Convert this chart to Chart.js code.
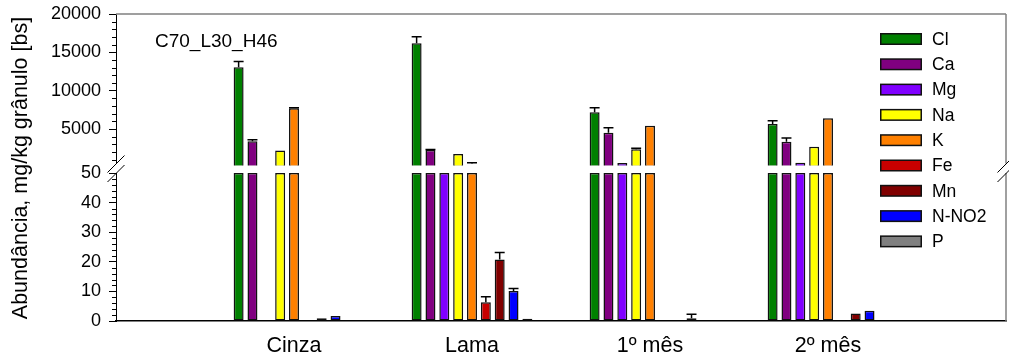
<!DOCTYPE html>
<html>
<head>
<meta charset="utf-8">
<script src="https://cdn.jsdelivr.net/npm/chart.js@4/dist/chart.umd.min.js"></script>
<style>
  html, body { margin: 0; padding: 0; background: #fff; }
  #wrap { position: relative; width: 1009px; height: 360px; }
  #wrap canvas { position: absolute; left: 0; top: 0; }
</style>
</head>
<body>
<div id="wrap">
  <canvas id="upper" width="1009" height="360"></canvas>
  <canvas id="lower" width="1009" height="360"></canvas>
</div>
<script>
// ---- data -------------------------------------------------------------
const categories = ['Cinza', 'Lama', '1º mês', '2º mês'];
const elements = ['Cl', 'Ca', 'Mg', 'Na', 'K', 'Fe', 'Mn', 'N-NO2', 'P'];
const colors = ['#008000', '#800080', '#8000FF', '#FFFF00', '#FF8000', '#C80000', '#800000', '#0000FF', '#808080'];

// mean abundance per element, one value per category (mg/kg granule, dry basis)
const Cl   = [13050, 16180, 7180, 5660];
const Ca   = [3400, 2270, 4520, 3350];
const Mg   = [null, 350, 580, 590];
const Na   = [2180, 1740, 2350, 2700];
const K    = [7700, 480, 5440, 6400];
const Fe   = [null, 6.3, null, null];
const Mn   = [0.9, 20.8, null, 2.5];
const NNO2 = [1.7, 10.1, 0.9, 3.5];
const P    = [null, 0.8, null, null];

// standard deviations (upper whisker only)
const ClErr   = [750, 850, 600, 430];
const CaErr   = [200, 60, 650, 480];
const MgErr   = [null, null, null, null];
const NaErr   = [null, null, 150, null];
const KErr    = [80, 120, null, null];
const FeErr   = [null, 1.9, null, null];
const MnErr   = [null, 2.3, null, null];
const NNO2Err = [null, 0.9, 1.4, null];
const PErr    = [null, null, null, null];

// broken y axis: upper and lower segments
const upperRange = [500, 20000];
const lowerRange = [0, 50];
const upperTicks = [5000, 10000, 15000, 20000];
const lowerTicks = [0, 10, 20, 30, 40, 50];
const upperMinorStep = 1000;
const lowerMinorStep = 2;

const sampleLabel = 'C70_L30_H46';
const yTitle = 'Abundância, mg/kg grânulo [bs]';

// ---- helpers ----------------------------------------------------------
const series = [Cl, Ca, Mg, Na, K, Fe, Mn, NNO2, P];
const errors = [ClErr, CaErr, MgErr, NaErr, KErr, FeErr, MnErr, NNO2Err, PErr];
// an empty slot on each side of the categories
const labels = ['', ...categories, ''];
const pad = arr => [null, ...arr, null];

const FONT = "'Liberation Sans', Arial, Helvetica, sans-serif";
Chart.defaults.font.family = FONT;
Chart.defaults.color = '#000';

function buildDatasets(mapValue) {
  return elements.map((name, i) => ({
    label: name,
    data: pad(series[i].map(mapValue)),
    backgroundColor: colors[i],
    borderColor: '#111',
    borderWidth: 1.5,
    borderSkipped: false,
    categoryPercentage: 0.70,
    barPercentage: 0.72,
    clip: 2
  }));
}

// whiskers, drawn from the same means and deviations, clipped to the plot
const errorBars = {
  id: 'errorBars',
  afterDatasetsDraw(chart) {
    const { ctx, chartArea: a } = chart;
    const y = chart.scales.y;
    ctx.save();
    ctx.beginPath();
    ctx.rect(a.left, a.top - 1, a.right - a.left, a.bottom - a.top + 2);
    ctx.clip();
    ctx.strokeStyle = '#000';
    ctx.lineWidth = 1.5;
    chart.data.datasets.forEach((ds, di) => {
      const meta = chart.getDatasetMeta(di);
      meta.data.forEach((bar, idx) => {
        const k = idx - 1;
        if (k < 0 || k >= categories.length) return;
        const v = series[di][k], e = errors[di][k];
        if (v == null || e == null) return;
        const x = bar.x;
        const y0 = y.getPixelForValue(v);
        const y1 = y.getPixelForValue(v + e);
        const half = bar.width / 2;
        ctx.beginPath();
        ctx.moveTo(x, y0);
        ctx.lineTo(x, y1);
        ctx.moveTo(x - half, y1);
        ctx.lineTo(x + half, y1);
        ctx.stroke();
      });
    });
    ctx.restore();
  }
};

// short minor ticks on the value axis
const minorTicks = {
  id: 'minorTicks',
  afterDraw(chart, args, opts) {
    const { ctx, chartArea: a } = chart;
    const y = chart.scales.y;
    const step = opts.step;
    ctx.save();
    ctx.strokeStyle = '#000';
    ctx.lineWidth = 1;
    for (let v = Math.ceil(y.min / step) * step; v <= y.max; v += step) {
      if (opts.major.includes(v)) continue;
      const py = Math.round(y.getPixelForValue(v)) + 0.5;
      ctx.beginPath();
      ctx.moveTo(a.left - 4, py);
      ctx.lineTo(a.left, py);
      ctx.stroke();
    }
    ctx.restore();
  }
};

// grey frame lines on top / right
const frame = {
  id: 'frame',
  afterDraw(chart, args, opts) {
    const { ctx, chartArea: a } = chart;
    ctx.save();
    ctx.strokeStyle = '#808080';
    ctx.lineWidth = 1.5;
    ctx.beginPath();
    if (opts.top) {
      ctx.moveTo(a.left, a.top);
      ctx.lineTo(a.right, a.top);
    }
    ctx.moveTo(a.right, a.top);
    ctx.lineTo(a.right, a.bottom);
    ctx.stroke();
    ctx.restore();
  }
};

// sample tag in the upper panel
const sampleTag = {
  id: 'sampleTag',
  afterDraw(chart) {
    const { ctx } = chart;
    ctx.save();
    ctx.font = '19px ' + FONT;
    ctx.fillStyle = '#000';
    ctx.textBaseline = 'alphabetic';
    ctx.fillText(sampleLabel, 155, 47);
    ctx.restore();
  }
};

// axis title, break marks and the element legend (drawn over both panels)
const overlay = {
  id: 'overlay',
  afterDraw(chart) {
    const { ctx, chartArea: a } = chart;
    ctx.save();
    // y axis title
    ctx.translate(27, 168);
    ctx.rotate(-Math.PI / 2);
    ctx.font = '21.5px ' + FONT;
    ctx.fillStyle = '#000';
    ctx.textAlign = 'center';
    ctx.textBaseline = 'alphabetic';
    ctx.fillText(yTitle, 0, 0);
    ctx.restore();

    // axis break marks at both sides
    ctx.save();
    ctx.strokeStyle = '#000';
    ctx.lineWidth = 1;
    [a.left, a.right].forEach(x => {
      [a.top - 9, a.top + 0.5].forEach(cy => {
        ctx.beginPath();
        ctx.moveTo(x - 8.5, cy + 8.5);
        ctx.lineTo(x + 8.5, cy - 8.5);
        ctx.stroke();
      });
    });
    ctx.restore();

    // legend
    ctx.save();
    ctx.font = '17.5px ' + FONT;
    ctx.textBaseline = 'middle';
    chart.data.datasets.forEach((ds, i) => {
      const cy = 39 + i * 25.3;
      ctx.fillStyle = '#111';
      ctx.fillRect(880, cy - 6, 42, 12);
      ctx.fillStyle = ds.backgroundColor;
      ctx.fillRect(881.5, cy - 4.5, 39, 9);
      ctx.fillStyle = '#000';
      ctx.fillText(ds.label, 932, cy + 1);
    });
    ctx.restore();
  }
};

function yAxis(range, ticks) {
  return {
    type: 'linear',
    min: range[0],
    max: range[1],
    afterBuildTicks: scale => { scale.ticks = ticks.map(v => ({ value: v })); },
    afterFit: scale => { scale.width = 116; scale.paddingTop = 0; scale.paddingBottom = 0; },
    grid: { drawOnChartArea: false, drawTicks: true, tickLength: 7, tickColor: '#000', tickWidth: 1 },
    border: { display: true, color: '#000', width: 1 },
    ticks: { padding: 8, color: '#000', font: { size: 18 }, callback: v => String(v) }
  };
}

const common = {
  responsive: false,
  animation: false,
  devicePixelRatio: 1,
  events: [],
  plugins: { legend: { display: false }, tooltip: { enabled: false } }
};

// upper panel: large concentrations
new Chart(document.getElementById('upper'), {
  type: 'bar',
  data: {
    labels,
    datasets: buildDatasets(v => (v == null || v < upperRange[0]) ? null : v)
  },
  options: {
    ...common,
    layout: { padding: { top: 14, right: 3, bottom: 196.5, left: 0 } },
    scales: {
      x: {
        type: 'category', offset: false, display: false,
        afterFit: scale => { scale.paddingLeft = 0; scale.paddingRight = 0; }
      },
      y: yAxis(upperRange, upperTicks)
    },
    plugins: {
      ...common.plugins,
      minorTicks: { step: upperMinorStep, major: upperTicks },
      frame: { top: true }
    }
  },
  plugins: [errorBars, minorTicks, frame, sampleTag]
});

// lower panel: trace concentrations (bars above the range stop at its top)
new Chart(document.getElementById('lower'), {
  type: 'bar',
  data: {
    labels,
    datasets: buildDatasets(v => v == null ? null : Math.min(v, lowerRange[1]))
  },
  options: {
    ...common,
    layout: { padding: { top: 173, right: 3, bottom: 0, left: 0 } },
    scales: {
      x: {
        type: 'category',
        offset: false,
        afterFit: scale => { scale.height = 39; scale.paddingLeft = 0; scale.paddingRight = 0; },
        grid: { display: false, drawTicks: false },
        border: { display: true, color: '#000', width: 1.5 },
        ticks: { autoSkip: false, maxRotation: 0, padding: 12, color: '#000', font: { size: 21.5 } }
      },
      y: yAxis(lowerRange, lowerTicks)
    },
    plugins: {
      ...common.plugins,
      minorTicks: { step: lowerMinorStep, major: lowerTicks },
      frame: { top: false }
    }
  },
  plugins: [errorBars, minorTicks, frame, overlay]
});
</script>
</body>
</html>
